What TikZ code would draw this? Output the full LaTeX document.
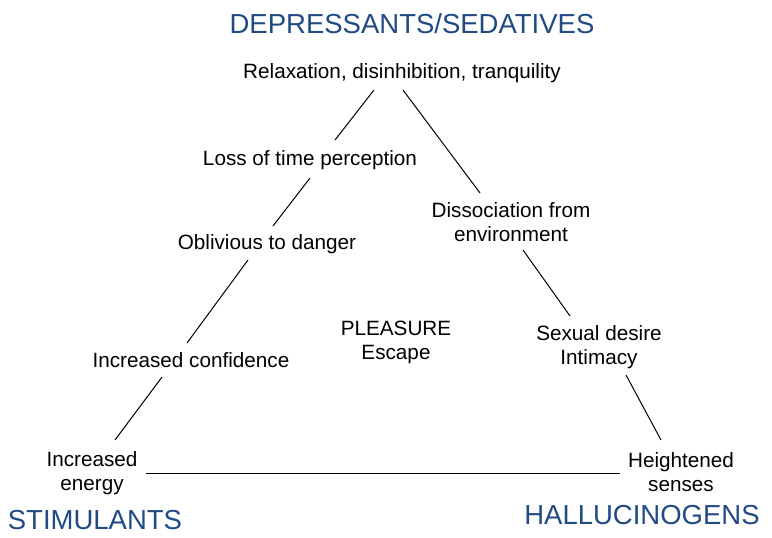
\documentclass[tikz,border=0pt]{standalone}
\usepackage{fontspec}
\setmainfont{Liberation Sans}
\usetikzlibrary{calc}
\definecolor{catblue}{RGB}{31,74,132}
\begin{document}
\begin{tikzpicture}[x=1pt,y=-1pt,
  lbl/.style={inner sep=0pt,align=center,font=\fontsize{20.7}{24}\selectfont,text=black},
  cat/.style={inner sep=0pt,font=\fontsize{27.5}{30}\selectfont,text=catblue},
  conn/.style={draw=black,line width=1pt}]
\useasboundingbox (0,0) rectangle (772,538);
\node[cat] (dep) at (412,24) {DEPRESSANTS/SEDATIVES};
\node[cat] (stim) at (95,520) {STIMULANTS};
\node[cat] (hall) at (642,515) {HALLUCINOGENS};
\node[lbl] (rel) at (402,73) {Relaxation, disinhibition, tranquility};
\node[lbl] (loss) at (310,160) {Loss of time perception};
\node[lbl] (obl) at (267,244) {Oblivious to danger};
\node[lbl] (conf) at (191,360) {Increased confidence};
\node[lbl] (energy) at (92,473) {Increased\\energy};
\node[lbl] (pleas) at (396,342) {PLEASURE\\Escape};
\node[lbl] (dis) at (511,222) {Dissociation from\\environment};
\node[lbl] (sex) at (599,347) {Sexual desire\\Intimacy};
\node[lbl] (heig) at (681,472) {Heightened\\senses};
\draw[conn] ($(rel)+(-28,17)$) -- ($(loss)+(25,-20)$);
\draw[conn] ($(loss)+(0,18)$) -- ($(obl)+(6,-18)$);
\draw[conn] ($(obl)+(-19,16)$) -- ($(conf)+(-4,-17)$);
\draw[conn] ($(conf)+(-29,17)$) -- ($(energy)+(23,-33)$);
\draw[conn] ($(rel)+(1,17)$) -- ($(dis)+(-31,-29)$);
\draw[conn] ($(dis)+(12,28)$) -- ($(sex)+(-29,-31)$);
\draw[conn] ($(sex)+(27,28)$) -- ($(heig)+(-20,-32)$);
\draw[conn] ($(energy)+(54,0)$) -- ($(heig)+(-61,1)$);
\end{tikzpicture}
\end{document}
